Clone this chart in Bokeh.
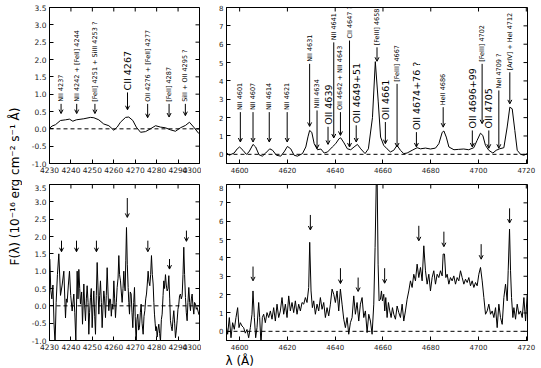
from math import pi
from bokeh.plotting import figure
from bokeh.layouts import row, column
from bokeh.models import (ColumnDataSource, Arrow, OpenHead, Span, FixedTicker,
                          NumeralTickFormatter, Range1d, Label, AllLabels)
from bokeh.core.properties import value
from bokeh.embed import file_html
from bokeh.resources import INLINE

FONT = "DejaVu Sans"

# ---------------- data ----------------
# top-left: smoothed spectrum 4230-4300
tl_wl = [4229.7, 4231.2, 4232.8, 4235.1, 4237.5, 4239.3, 4240.9, 4242.5, 4246.0, 4249.1,
         4250.7, 4253.0, 4255.3, 4257.7, 4260.0, 4261.6, 4263.1, 4265.5, 4267.0, 4268.9,
         4270.5, 4272.5, 4274.8, 4277.1, 4279.5, 4281.8, 4284.1, 4286.5, 4288.8, 4291.1,
         4293.5, 4295.3, 4297.3, 4299.6, 4300.5]
tl_flux = [0.0, 0.08, 0.12, 0.24, 0.26, 0.28, 0.22, 0.26, 0.29, 0.33,
           0.32, 0.26, 0.14, 0.09, -0.04, 0.05, 0.19, 0.33, 0.34, 0.24,
           0.05, -0.10, -0.08, 0.0, 0.09, 0.05, 0.03, -0.03, -0.07, 0.03,
           0.10, 0.19, 0.05, -0.13, -0.18]

# top-right: smoothed spectrum 4595-4720
tr_wl = [4594.2, 4595.6, 4597.7, 4599.0, 4600.0, 4601.4, 4602.8, 4603.9, 4605.6, 4606.7,
         4608.1, 4609.5, 4610.9, 4612.6, 4613.8, 4615.4, 4617.2, 4618.6, 4620.0, 4621.4,
         4622.8, 4624.2, 4626.3, 4627.7, 4628.6, 4629.3, 4630.2, 4631.2, 4632.6, 4634.0,
         4635.4, 4636.8, 4638.8, 4640.2, 4641.6, 4642.3, 4643.7, 4645.1, 4646.5, 4647.9,
         4649.3, 4650.7, 4652.5, 4653.9, 4655.6, 4656.8, 4658.0, 4659.0, 4660.3, 4661.7,
         4663.1, 4664.5, 4665.9, 4667.3, 4668.7, 4670.1, 4672.2, 4674.3, 4675.7, 4677.8,
         4679.9, 4682.0, 4683.4, 4684.8, 4685.5, 4686.5, 4687.6, 4689.7, 4691.7, 4693.8,
         4695.9, 4698.0, 4699.4, 4700.8, 4701.8, 4702.9, 4704.3, 4706.0, 4707.4, 4708.8,
         4710.6, 4712.0, 4713.1, 4714.1, 4715.2, 4716.2, 4717.6, 4719.0, 4720.4]
tr_flux = [0.13, -0.05, 0.07, 0.30, 0.40, 0.22, 0.0, 0.13, 0.54, 0.40,
           -0.02, -0.10, 0.07, 0.30, 0.22, -0.05, -0.10, 0.13, 0.43, 0.30,
           -0.05, -0.10, 0.04, 0.40, 0.95, 1.30, 1.20, 0.58, 0.25, 0.29,
           0.07, 0.13, 0.40, 0.58, 0.85, 0.90, 0.62, 0.30, 0.25, 0.40,
           0.54, 0.30, 0.04, 0.30, 2.00, 5.05, 2.90, 0.94, 0.49, 0.30,
           0.13, 0.22, 0.49, 0.22, 0.04, 0.07, 0.22, 0.36, 0.30, 0.34,
           0.29, 0.34, 0.58, 1.20, 1.27, 0.94, 0.40, 0.25, 0.27, 0.29,
           0.25, 0.36, 0.76, 1.15, 1.03, 0.49, 0.22, 0.07, 0.22, 0.30,
           0.36, 1.49, 2.57, 2.48, 1.30, 0.22, 0.0, -0.05, 0.04]

# bottom-left: observed spectrum 4230-4300
bl_wl = [4230.16, 4230.6, 4231.1, 4231.6, 4232.1, 4232.6, 4233.1, 4233.7, 4234.35, 4235.13,
         4235.9, 4236.69, 4237.47, 4237.85, 4238.24, 4238.8, 4239.33, 4239.9, 4240.58, 4241.35,
         4241.8, 4242.29, 4242.91, 4243.3, 4243.69, 4244.1, 4244.46, 4245.0, 4245.4, 4246.02,
         4246.4, 4246.8, 4247.2, 4247.57, 4248.0, 4248.35, 4248.7, 4249.13, 4249.5, 4249.91,
         4250.3, 4250.68, 4251.1, 4251.46, 4251.85, 4252.24, 4252.6, 4253.02, 4253.4, 4253.79,
         4254.2, 4254.57, 4255.0, 4255.35, 4255.7, 4256.13, 4256.5, 4256.91, 4257.3, 4257.68,
         4258.1, 4258.46, 4258.85, 4259.24, 4259.6, 4260.02, 4260.4, 4260.79, 4261.2, 4261.57,
         4262.0, 4262.35, 4262.7, 4263.13, 4263.5, 4263.9, 4264.3, 4264.68, 4265.0, 4265.3,
         4265.6, 4265.93, 4266.3, 4266.7, 4267.0, 4267.33, 4267.7, 4268.1, 4268.5, 4268.88,
         4269.3, 4269.66, 4270.0, 4270.44, 4270.8, 4271.21, 4271.6, 4271.99, 4272.4, 4272.77,
         4273.2, 4273.7, 4274.1, 4274.48, 4274.9, 4275.26, 4275.6, 4276.03, 4276.4, 4276.81,
         4277.2, 4277.59, 4278.0, 4278.37, 4278.7, 4278.99, 4279.3, 4279.61, 4279.9, 4280.23,
         4280.6, 4281.01, 4281.4, 4281.79, 4282.2, 4282.57, 4283.0, 4283.34, 4283.7, 4284.12,
         4284.5, 4284.9, 4285.3, 4285.68, 4286.1, 4286.45, 4286.85, 4287.23, 4287.6, 4288.01,
         4288.4, 4288.79, 4289.2, 4289.56, 4289.95, 4290.34, 4290.7, 4291.12, 4291.5, 4291.9,
         4292.3, 4292.67, 4293.05, 4293.45, 4293.85, 4294.23, 4294.6, 4295.01, 4295.4, 4295.78,
         4296.2, 4296.56, 4296.95, 4297.34, 4297.7, 4298.12, 4298.5, 4298.9, 4299.3, 4299.67,
         4300.2]
bl_flux = [1.35, 0.45, 0.2, 0.6, -0.5, -1.1, 0.1, 0.9, 1.5, 0.3,
           0.6, 1.0, -0.35, 0.2, 0.1, 0.6, 1.0, 0.3, -0.15, 0.34,
           -0.2, -1.0, 1.0, 0.2, 1.05, 0.5, 0.05, 0.4, -0.53, 0.63,
           0.0, -0.43, 0.2, 0.58, 0.1, -0.82, -0.2, 0.24, 0.5, -0.63,
           0.0, 0.43, -0.3, -0.82, 0.3, 1.25, 0.6, -0.24, 0.3, 0.72,
           0.1, -0.63, 0.0, 0.43, 0.2, -0.34, 0.3, 1.1, 0.4, -0.14,
           0.2, 0.19, -0.3, 0.05, -0.1, 0.72, 0.2, -0.34, 0.1, 0.53,
           0.8, 1.45, 0.9, 0.72, 0.4, 0.1, 0.5, 1.0, 0.6, 0.43,
           1.3, 2.26, 1.2, 0.53, 0.1, -0.24, 0.4, 0.34, -0.2, -0.63,
           0.1, 0.53, -0.3, -1.1, -0.4, -0.24, -0.7, -0.63, -0.2, 0.05,
           -0.5, -0.82, -0.3, -0.14, 0.2, 0.34, 0.6, 1.0, 0.7, 0.58,
           0.9, 1.45, 0.9, 0.63, 0.1, -0.24, -0.5, -0.72, -0.6, -0.9,
           -0.7, -0.53, -0.8, -1.02, -0.4, -0.24, 0.3, 0.72, 0.5, 0.9,
           0.6, 0.43, 0.5, 0.87, 0.2, -0.43, -0.6, -0.72, -0.4, -0.14,
           -0.5, -0.92, -0.7, -0.43, -0.1, 0.05, 0.3, 0.34, 0.2, 0.29,
           0.9, 1.69, 0.9, 0.24, -0.2, -0.43, 0.1, 0.53, 0.1, -0.14,
           0.2, 0.34, 0.0, -0.24, 0.1, 0.05, -0.1, -0.05, -0.15, -0.24,
           -0.3]

# bottom-right: observed spectrum 4595-4720
br_wl = [4594.42, 4594.98, 4595.68, 4596.38, 4597.07, 4597.77, 4598.47, 4599.17, 4599.73, 4600.29,
         4600.98, 4601.68, 4602.38, 4603.08, 4603.78, 4604.48, 4605.17, 4605.59, 4606.15, 4606.71,
         4607.27, 4607.97, 4608.39, 4608.94, 4609.50, 4610.06, 4610.76, 4611.46, 4612.16, 4612.86,
         4613.55, 4614.25, 4614.95, 4615.65, 4616.35, 4617.04, 4617.74, 4618.44, 4619.14, 4619.84,
         4620.54, 4621.23, 4621.93, 4622.63, 4623.33, 4624.03, 4624.72, 4625.42, 4626.12, 4626.82,
         4627.52, 4628.21, 4628.91, 4629.33, 4629.89, 4630.45, 4631.01, 4631.71, 4632.40, 4633.10,
         4633.80, 4634.50, 4635.20, 4635.89, 4636.59, 4637.29, 4637.99, 4638.69, 4639.39, 4640.08,
         4640.78, 4641.48, 4642.18, 4642.88, 4643.58, 4644.27, 4644.97, 4645.67, 4646.37, 4647.07,
         4647.77, 4648.46, 4649.16, 4649.86, 4650.56, 4651.26, 4651.96, 4652.65, 4653.35, 4654.05,
         4654.75, 4655.45, 4656.15, 4656.70, 4657.26, 4657.54, 4657.96, 4658.38, 4658.94, 4659.36,
         4659.78, 4660.33, 4660.75, 4661.17, 4661.73, 4662.29, 4662.85, 4663.41, 4663.97, 4664.52,
         4665.22, 4665.92, 4666.62, 4667.32, 4668.02, 4668.71, 4669.41, 4670.11, 4670.81, 4671.51,
         4672.20, 4672.90, 4673.60, 4674.30, 4675.00, 4675.70, 4676.39, 4677.09, 4677.79, 4678.49,
         4679.19, 4679.88, 4680.58, 4681.28, 4681.98, 4682.68, 4683.38, 4684.07, 4684.77, 4685.19,
         4685.75, 4686.31, 4686.87, 4687.57, 4688.26, 4688.96, 4689.66, 4690.36, 4691.06, 4691.75,
         4692.45, 4693.15, 4693.85, 4694.55, 4695.25, 4695.94, 4696.64, 4697.34, 4698.04, 4698.74,
         4699.43, 4700.13, 4700.83, 4701.53, 4702.23, 4702.93, 4703.62, 4704.32, 4705.02, 4705.72,
         4706.42, 4707.12, 4707.81, 4708.51, 4709.21, 4709.91, 4710.61, 4711.30, 4712.00, 4712.42,
         4712.98, 4713.40, 4713.82, 4714.38, 4714.80, 4715.49, 4716.19, 4716.89, 4717.59, 4718.29,
         4718.99, 4719.69, 4720.38]
br_flux = [0.29, -0.16, 0.75, -0.35, 0.47, 0.11, 0.75, 1.29, 0.2, 0.47,
           0.29, 0.2, -0.1, 0.1, -0.35, 0.2, 0.93, 2.2, 0.75, -0.35,
           0.2, 1.57, 0.75, -0.71, 0.75, 0.93, 0.47, 1.02, 0.75, 1.11,
           0.66, 1.29, 0.56, 1.48, 0.75, 1.11, 1.84, 0.93, 1.48, 0.75,
           1.93, 1.11, 1.57, 1.02, 1.66, 0.93, 1.48, 1.11, 1.57, 1.48,
           1.84, 1.57, 2.39, 4.85, 2.2, 1.29, 1.66, 0.93, 1.48, 1.11,
           1.84, 1.2, 1.57, 0.75, 1.29, 0.84, 1.48, 2.3, 2.02, 1.57,
           2.2, 1.11, 2.3, 1.48, 0.66, 0.2, 0.75, -0.16, 0.47, 0.75,
           1.93, 0.93, 1.57, 0.56, 1.48, 1.84, 0.75, 1.11, -0.07, 0.93,
           0.56, -0.16, 1.48, 4.57, 8.6, 8.6, 3.66, 1.66, 1.75, 2.2,
           1.66, 2.02, 1.11, 1.84, 0.75, 1.57, 1.11, 0.75, 1.29, 0.93,
           0.66, 1.38, 1.02, 0.75, 1.48, 0.56, 1.11, 1.75, 2.2, 2.75,
           2.39, 3.11, 2.75, 3.66, 2.93, 3.48, 2.75, 4.66, 3.3, 2.57,
           3.11, 2.2, 2.93, 3.3, 2.57, 3.11, 2.93, 3.3, 3.02, 4.21,
           4.21, 2.93, 3.11, 2.57, 2.93, 2.75, 3.02, 2.57, 2.93, 2.75,
           3.3, 2.93, 2.57, 2.84, 2.66, 2.93, 2.48, 2.75, 2.39, 2.66,
           2.48, 3.11, 3.48, 2.75, 1.84, 0.93, 1.11, 1.48, 0.93, 1.11,
           0.75, 1.29, 0.2, 1.48, 0.75, 0.38, 1.84, 2.57, 1.66, 3.3,
           5.57, 3.3, 1.84, 0.75, 1.29, 0.66, 1.48, 0.93, 1.11, 0.75,
           1.84, 0.56, 2.02]

# line identifications, top-left
tl_names = ["NII 4237", "NII 4242 + [FeII] 4244", "[FeII] 4251 + SiIII 4253 ?", "CII 4267",
            "OII 4276 + [FeII] 4277", "[FeII] 4287", "SiII + OII 4295 ?"]
tl_line_x = [4235.4, 4242.7, 4251.2, 4266.4, 4275.8, 4285.8, 4293.4]
tl_base = [0.72, 0.72, 0.72, 1.05, 0.72, 0.72, 0.72]
tl_tip = [0.44, 0.44, 0.44, 0.55, 0.32, 0.34, 0.38]
tl_big = [False, False, False, True, False, False, False]

# line identifications, top-right
tr_names = ["NII 4601", "NII 4607", "NII 4614", "NII 4621", "NII 4631", "NIII 4634", "OII 4639",
            "NII 4641", "OII 4642 + NII 4643", "CII 4647 ?", "OII 4649+51", "[FeIII] 4658",
            "OII 4661", "[FeIII] 4667", "OII 4674+76 ?", "HeII 4686", "OII 4696+99",
            "[FeIII] 4702", "OII 4705", "NeI 4709 ?", "[ArIV] + HeI 4712"]
tr_line_x = [4600.3, 4605.6, 4612.4, 4619.9, 4629.3, 4632.4, 4637.0,
             4639.4, 4642.2, 4646.0, 4648.8, 4657.5,
             4661.0, 4665.9, 4674.0, 4685.2, 4697.4,
             4701.5, 4704.3, 4708.5, 4713.1]
tr_base = [2.3, 2.3, 2.3, 2.3, 4.93, 2.39, 1.5,
           6.1, 2.3, 6.2, 1.58, 5.83,
           1.76, 3.84, 1.21, 2.57, 1.3,
           4.93, 1.3, 3.48, 4.47]
tr_tip = [0.67, 0.67, 0.67, 0.67, 1.52, 0.31, 0.54,
          0.89, 1.03, 0.40, 0.67, 5.07,
          0.58, 0.40, 0.40, 1.48, 0.40,
          1.67, 0.33, 0.33, 2.75]
tr_big = [False, False, False, False, False, False, True,
          False, False, False, True, False,
          True, False, True, False, True,
          False, True, False, False]

# arrows, bottom panels
bl_arrow_x = [4235.6, 4242.6, 4251.9, 4266.3, 4275.9, 4286.0, 4293.9]
bl_arrow_top = [1.88, 1.88, 1.88, 3.11, 1.88, 1.35, 2.17]
bl_arrow_tip = [1.56, 1.56, 1.56, 2.55, 1.56, 1.06, 1.86]

br_arrow_x = [4605.6, 4629.6, 4642.2, 4649.6, 4660.7, 4675.0, 4685.5, 4701.1, 4713.0]
br_arrow_top = [3.53, 6.34, 3.44, 2.93, 3.44, 5.75, 5.43, 4.75, 6.7]
br_arrow_tip = [2.75, 5.52, 2.60, 2.17, 2.62, 4.93, 4.61, 3.93, 5.9]

left_xticks = [4230, 4240, 4250, 4260, 4270, 4280, 4290, 4300]
left_yticks = [-1.0, -0.5, 0.0, 0.5, 1.0, 1.5, 2.0, 2.5, 3.0, 3.5]
right_xticks = [4600, 4620, 4640, 4660, 4680, 4700, 4720]
right_yticks = [0, 1, 2, 3, 4, 5, 6, 7, 8]

ylabel_text = "F(\u03bb) (10\u207b\u00b9\u2076 erg cm\u207b\u00b2 s\u207b\u00b9 \u00c5)"
xlabel_text = "\u03bb (\u00c5)"


def make_panel(width, height, xr, yr, xticks, yticks, yfmt, tick_font, mbl, mbr, mbt, mbb):
    p = figure(width=width, height=height, x_range=Range1d(*xr), y_range=Range1d(*yr),
               toolbar_location=None, output_backend="svg", title=None,
               min_border_left=mbl, min_border_right=mbr,
               min_border_top=mbt, min_border_bottom=mbb)
    p.grid.visible = False
    p.outline_line_color = "black"
    p.outline_line_width = 1
    p.background_fill_color = "white"
    p.border_fill_color = "white"
    p.xaxis.ticker = FixedTicker(ticks=xticks)
    p.yaxis.ticker = FixedTicker(ticks=yticks)
    p.yaxis.formatter = NumeralTickFormatter(format=yfmt)
    for ax in p.axis:
        ax.major_tick_in = 4
        ax.major_tick_out = 0
        ax.minor_tick_line_color = None
        ax.axis_line_color = "black"
        ax.major_tick_line_color = "black"
        ax.major_label_text_font = FONT
        ax.major_label_text_font_size = tick_font
        ax.major_label_text_color = "#222222"
        ax.major_label_standoff = 3
        ax.major_label_policy = AllLabels()
    # inward tick marks on the top and right edges (clipped half-dashes)
    top_ticks = [t for t in xticks if xr[0] <= t <= xr[1]]
    right_ticks = [t for t in yticks if yr[0] <= t <= yr[1]]
    p.scatter(x=top_ticks, y=[yr[1]] * len(top_ticks), marker="dash", size=8,
              angle=pi / 2, line_color="black", line_width=1)
    p.scatter(x=[xr[1]] * len(right_ticks), y=right_ticks, marker="dash", size=8,
              line_color="black", line_width=1)
    p.add_layout(Span(location=0, dimension="width", line_color="black",
                      line_dash="4 3", line_width=1))
    return p


def add_arrows(p, xs, y0, y1):
    src = ColumnDataSource(dict(x=xs, y0=y0, y1=y1))
    p.add_layout(Arrow(end=OpenHead(size=4, line_width=1, line_color="black"),
                       x_start="x", y_start="y0", x_end="x", y_end="y1", source=src,
                       line_color="black", line_width=1))


def add_ids(p, names, xs, base, tip, big):
    small = dict(x=[], y=[], t=[])
    large = dict(x=[], y=[], t=[])
    for n, x, b, bg in zip(names, xs, base, big):
        d = large if bg else small
        d["x"].append(x)
        d["y"].append(b)
        d["t"].append(n)
    p.text(x="x", y="y", text="t", source=ColumnDataSource(small), angle=pi / 2,
           text_align="left", text_baseline="middle", y_offset=-2,
           text_font=value(FONT), text_font_size="6.5px", text_color="black")
    p.text(x="x", y="y", text="t", source=ColumnDataSource(large), angle=pi / 2,
           text_align="left", text_baseline="middle", y_offset=-2,
           text_font=value(FONT), text_font_size="9.5px", text_color="black")
    add_arrows(p, xs, base, tip)


LX = (4230, 4300)
LY = (-1.0, 3.5)
RX = (4594.5, 4720.5)
RY = (-0.5, 8.0)

# layout (page px): y-label strip 22 wide; top row 184 tall; bottom row 168; x-label strip 16
p1 = make_panel(179, 184, LX, LY, left_xticks, left_yticks, "0.0", "7.5px", 27, 2, 7, 21)
p1.line(tl_wl, tl_flux, line_color="black", line_width=1)
add_ids(p1, tl_names, tl_line_x, tl_base, tl_tip, tl_big)

p2 = make_panel(338, 184, RX, RY, right_xticks, right_yticks, "0", "7px", 25, 12, 7, 21)
p2.line(tr_wl, tr_flux, line_color="black", line_width=1)
add_ids(p2, tr_names, tr_line_x, tr_base, tr_tip, tr_big)

p3 = make_panel(179, 168, LX, LY, left_xticks, left_yticks, "0.0", "7.5px", 27, 2, 0, 12)
p3.line(bl_wl, bl_flux, line_color="black", line_width=1)
add_arrows(p3, bl_arrow_x, bl_arrow_top, bl_arrow_tip)

p4 = make_panel(338, 168, RX, RY, right_xticks, right_yticks, "0", "7px", 25, 12, 0, 12)
p4.line(br_wl, br_flux, line_color="black", line_width=1)
add_arrows(p4, br_arrow_x, br_arrow_top, br_arrow_tip)

# strip under the panels carrying the x-axis label (screen-like ranges)
strip = figure(width=517, height=16, toolbar_location=None, output_backend="svg", title=None,
               x_axis_location=None, y_axis_location=None, min_border=0,
               x_range=Range1d(0, 517), y_range=Range1d(0, 16))
strip.grid.visible = False
strip.outline_line_color = None
strip.add_layout(Label(x=203, y=8, text=xlabel_text, text_align="left",
                       text_baseline="middle", text_font=FONT, text_font_size="12px",
                       text_color="black"))

# narrow strip carrying the shared y-axis label
p0 = figure(width=22, height=368, toolbar_location=None, output_backend="svg", title=None,
            x_axis_location=None, y_axis_location=None, min_border=0,
            x_range=Range1d(0, 22), y_range=Range1d(0, 368))
p0.grid.visible = False
p0.outline_line_color = None
p0.add_layout(Label(x=14, y=182, text=ylabel_text, angle=pi / 2, text_align="center",
                    text_baseline="middle", text_font=FONT, text_font_size="12px",
                    text_color="black"))

layout = row(p0, column(row(p1, p2), row(p3, p4), strip))

open("out.html", "w").write(file_html(layout, INLINE))
